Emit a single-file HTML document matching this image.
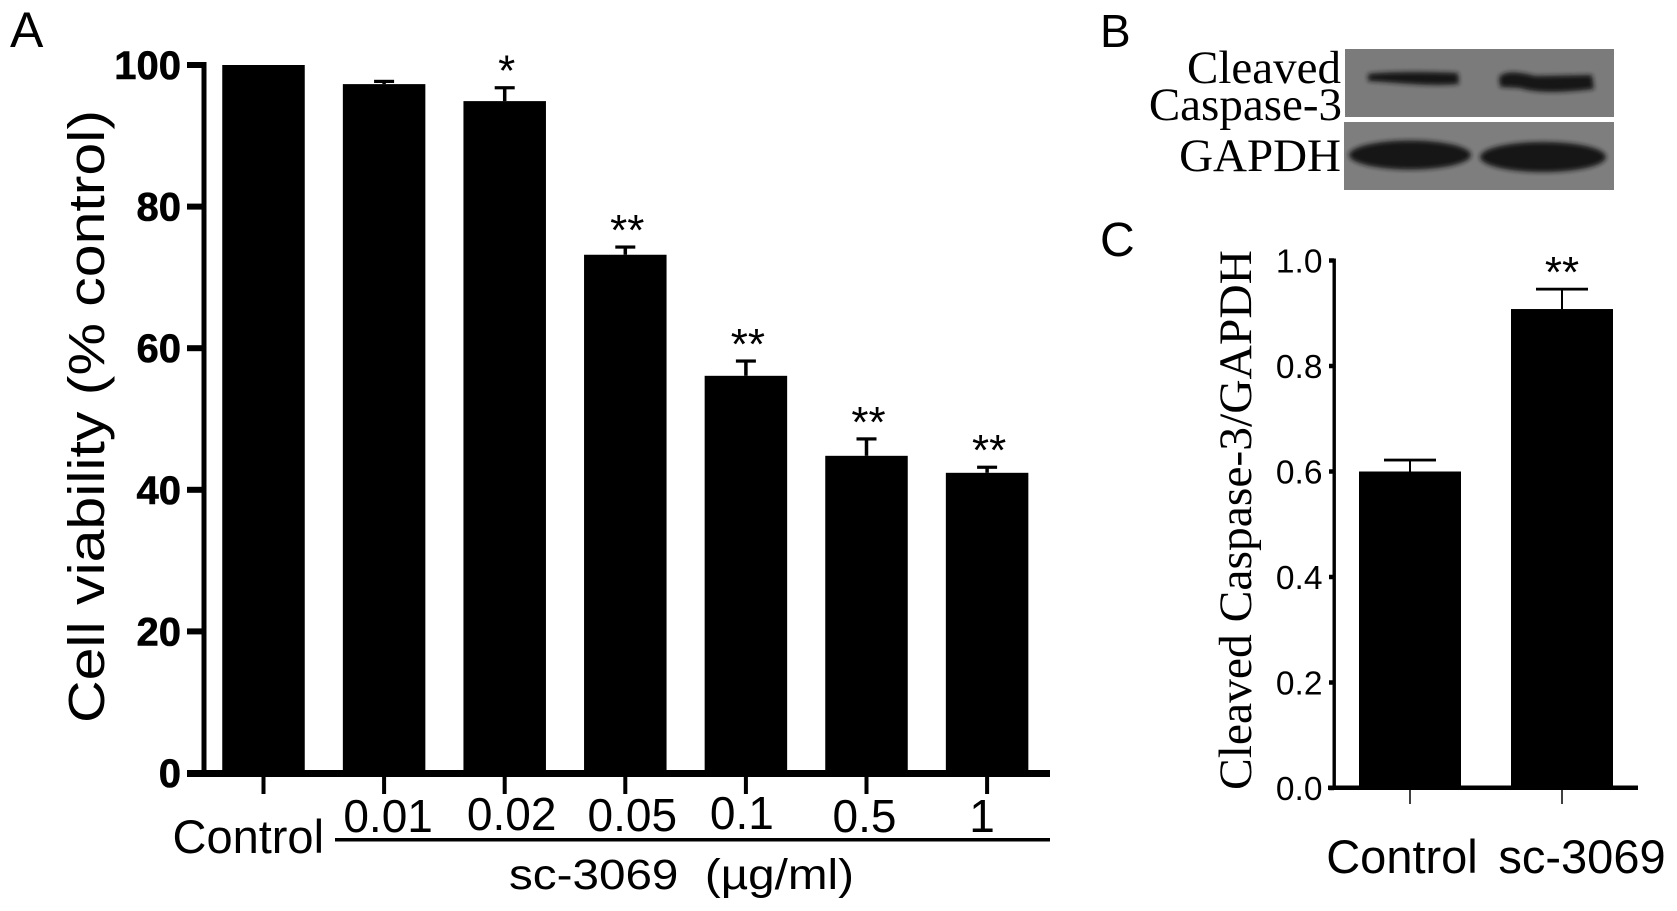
<!DOCTYPE html>
<html lang="en">
<head>
<meta charset="utf-8">
<title>sc-3069 cell viability and cleaved caspase-3</title>
<style>
html,body{margin:0;padding:0;background:#fff;}
svg{display:block;}
text{fill:#000;font-family:"Liberation Sans",sans-serif;}
.serif{font-family:"Liberation Serif",serif;}
</style>
</head>
<body>
<svg id="fig" xmlns="http://www.w3.org/2000/svg" width="1677" height="911" viewBox="0 0 1677 911">
  <defs>
    <filter id="soft" x="-10%" y="-40%" width="120%" height="180%"><feGaussianBlur stdDeviation="2.4"/></filter>
  </defs>
  <rect width="1677" height="911" fill="#fff"/>

  <text x="10" y="47" font-size="50">A</text>
  <text x="1100" y="47" font-size="46">B</text>
  <text x="1100" y="256" font-size="48">C</text>

  <text transform="translate(104,723) rotate(-90)" font-size="51" textLength="613" lengthAdjust="spacingAndGlyphs">Cell viability (% control)</text>
  <text x="172.5" y="853" font-size="47">Control</text>
  <rect x="335" y="838" width="715" height="3.5" fill="#000"/>
  <text x="509" y="889" font-size="43" textLength="345" lengthAdjust="spacingAndGlyphs">sc-3069&#160;&#160;(µg/ml)</text>

  <g>
    <rect x="1345" y="49" width="269" height="68" fill="#7b7b7b"/>
    <rect x="1344" y="122" width="270" height="68" fill="#7e7e7e"/>
    <path filter="url(#soft)" fill="#191919" d="M1368 74 C1390 71 1440 72 1458 73 L1459 84 C1430 87 1390 82 1368 81 Z"/>
    <path filter="url(#soft)" fill="#141414" d="M1499 77 C1505 70 1520 72 1535 76 L1592 75 L1594 89 C1560 93 1535 93 1520 88 L1500 87 Z"/>
    <ellipse filter="url(#soft)" cx="1410" cy="155" rx="61" ry="14.5" fill="#161616"/>
    <ellipse filter="url(#soft)" cx="1543" cy="157" rx="63" ry="15" fill="#161616"/>
    <text class="serif" x="1341" y="83" font-size="47" text-anchor="end">Cleaved</text>
    <text class="serif" x="1342" y="120" font-size="47" text-anchor="end">Caspase-3</text>
    <text class="serif" x="1341" y="171" font-size="47" text-anchor="end">GAPDH</text>
  </g>

  <text class="serif" transform="translate(1251,790) rotate(-90)" font-size="47" textLength="540" lengthAdjust="spacingAndGlyphs">Cleaved Caspase-3/GAPDH</text>
  <g id="panelA"></g>
  <g id="panelC"></g>
</svg>

<script>
// Panel A data
const doseLabels = ["Control", "0.01", "0.02", "0.05", "0.1", "0.5", "1"];
const viabilityValues = [100, 97.3, 94.9, 73.2, 56.1, 44.8, 42.4];
const viabilityErrorTops = [100, 97.7, 96.8, 74.3, 58.2, 47.2, 43.2];
const viabilityStars = ["", "", "*", "**", "**", "**", "**"];
const viabilityTicks = [0, 20, 40, 60, 80, 100];

// Panel C data
const caspaseLabels = ["Control", "sc-3069"];
const caspaseValues = [0.6, 0.908];
const caspaseErrorTops = [0.622, 0.946];
const caspaseStars = ["", "**"];
const caspaseTicks = ["0.0", "0.2", "0.4", "0.6", "0.8", "1.0"];

const NS = "http://www.w3.org/2000/svg";
function make(tag, attrs, parent, content) {
  const node = document.createElementNS(NS, tag);
  for (const key in attrs) node.setAttribute(key, attrs[key]);
  if (content !== undefined) node.textContent = content;
  parent.appendChild(node);
  return node;
}

function drawPanelA() {
  const g = document.getElementById("panelA");
  const yA = v => 773 - 7.08 * v;
  const xA = i => 263.5 + 120.6 * i;
  const barW = 82.5;
  const labelDx = [0, 4, 7, 7, -4, -2, -5];
  const labelBase = [0, 832, 830, 831, 829, 832, 832];

  viabilityValues.forEach((v, i) => {
    const bar = make("rect", {x: xA(i) - barW / 2, y: yA(v), width: barW, height: 771 - yA(v), fill: "#000"}, g);
    
    

    const top = viabilityErrorTops[i];
    if (top > v) {
      const stem = make("rect", {x: xA(i) - 1.75, y: yA(top), width: 3.5, height: yA(v) - yA(top), fill: "#000"}, g);
      
      
      const cap = make("rect", {x: xA(i) - 10, y: yA(top) - 1.5, width: 20, height: 3.2, fill: "#000"}, g);
      
      
    }
    if (viabilityStars[i]) {
      const star = make("text", {x: xA(i) + 2, y: yA(top) - 2, "font-size": 44, "text-anchor": "middle"}, g, viabilityStars[i]);
      
      
    }
    const tick = make("rect", {x: xA(i) - 2, y: 775, width: 4, height: 19, fill: "#000"}, g);
    
    
    if (i > 0) {
      const label = make("text", {x: xA(i) + labelDx[i], y: labelBase[i], "font-size": 46, "text-anchor": "middle"}, g, doseLabels[i]);
      
      
    }
  });

  const yAxis = make("rect", {x: 201.5, y: yA(100) - 3, width: 5, height: 713, fill: "#000"}, g);
  
  
  const xAxis = make("rect", {x: 187, y: 770, width: 863, height: 7, fill: "#000"}, g);
  
  

  viabilityTicks.forEach(t => {
    const tick = make("rect", {x: 187, y: yA(t) - 3, width: 17, height: 6, fill: "#000"}, g);
    
    
    const label = make("text", {x: 181, y: yA(t) + 14, "font-size": 40, "font-weight": "bold", "text-anchor": "end", stroke: "#000", "stroke-width": 0.6}, g, String(t));
    
    
  });
}

function drawPanelC() {
  const g = document.getElementById("panelC");
  const yC = v => 788 - 527.5 * v;
  const xC = i => 1410 + 152 * i;
  const barW = 102;

  caspaseValues.forEach((v, i) => {
    const bar = make("rect", {x: xC(i) - barW / 2, y: yC(v), width: barW, height: 786 - yC(v), fill: "#000"}, g);
    
    

    const top = caspaseErrorTops[i];
    const stem = make("rect", {x: xC(i) - 1, y: yC(top), width: 2, height: yC(v) - yC(top), fill: "#000"}, g);
    
    
    const cap = make("rect", {x: xC(i) - 26, y: yC(top) - 1.25, width: 52, height: 2.8, fill: "#000"}, g);
    
    

    if (caspaseStars[i]) {
      const star = make("text", {x: xC(i), y: yC(top) - 2, "font-size": 44, "text-anchor": "middle"}, g, caspaseStars[i]);
      
      
    }
    const tick = make("rect", {x: xC(i) - 0.75, y: 790, width: 1.5, height: 14, fill: "#000"}, g);
    
    
    const label = make("text", {x: xC(i) + (i ? 20 : -8), y: 873, "font-size": 47, "text-anchor": "middle"}, g, caspaseLabels[i]);
    
    
  });

  const yAxis = make("rect", {x: 1332.5, y: yC(1) - 2, width: 3.4, height: 530, fill: "#000"}, g);
  
  
  const xAxis = make("rect", {x: 1328, y: 785.5, width: 310, height: 4.5, fill: "#000"}, g);
  
  

  caspaseTicks.forEach(t => {
    const v = parseFloat(t);
    const tick = make("rect", {x: 1329, y: yC(v) - 2.25, width: 5, height: 4.5, fill: "#000"}, g);
    
    
    const label = make("text", {x: 1322.5, y: yC(v) + 12, "font-size": 33.5, "text-anchor": "end"}, g, t);
    
    
  });
}

drawPanelA();
drawPanelC();
</script>
</body>
</html>
